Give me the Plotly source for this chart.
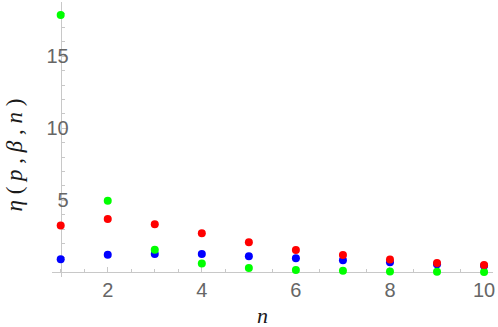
import plotly.graph_objects as go

n_values = [1, 2, 3, 4, 5, 6, 7, 8, 9, 10]
eta_blue = [0.90, 1.22, 1.27, 1.27, 1.11, 0.97, 0.83, 0.69, 0.56, 0.45]
eta_green = [17.87, 4.97, 1.57, 0.60, 0.30, 0.16, 0.10, 0.05, 0.03, 0.02]
eta_red = [3.24, 3.70, 3.33, 2.71, 2.08, 1.55, 1.20, 0.88, 0.65, 0.51]
x_tickvals = [2, 4, 6, 8, 10]
y_tickvals = [5, 10, 15]

XR = [0.815, 10.19]
YR = [-0.33, 18.77]

fig = go.Figure()
for ys, col in [(eta_blue, "#0000ff"), (eta_green, "#00ff00"), (eta_red, "#ff0000")]:
    fig.add_trace(go.Scatter(x=n_values, y=ys, mode="markers",
                             marker=dict(color=col, size=8, line=dict(width=0)),
                             showlegend=False))

axcol = "#c8c8c8"
fontc = "#666666"
fig.update_layout(
    width=498, height=327,
    margin=dict(l=52, r=5, t=2, b=50),
    plot_bgcolor="white", paper_bgcolor="white",
    xaxis=dict(range=XR, anchor="free", position=(0 - YR[0]) / (YR[1] - YR[0]),
               tickvals=x_tickvals, ticks="inside", ticklen=5, tickcolor=axcol,
               showline=True, linecolor=axcol, linewidth=1, layer="below traces",
               showgrid=False, zeroline=False,
               minor=dict(tickmode="linear", tick0=0, dtick=0.5, ticks="inside",
                          ticklen=3, tickcolor=axcol, showgrid=False),
               tickfont=dict(family="Liberation Sans, Arial", size=20, color=fontc)),
    yaxis=dict(range=YR, anchor="free", position=(1 - XR[0]) / (XR[1] - XR[0]),
               tickvals=y_tickvals, ticks="inside", ticklen=5, tickcolor=axcol,
               showline=True, linecolor=axcol, linewidth=1, layer="below traces",
               showgrid=False, zeroline=False, ticklabelstandoff=-12,
               minor=dict(tickmode="linear", tick0=0, dtick=1, ticks="inside",
                          ticklen=3, tickcolor=axcol, showgrid=False),
               tickfont=dict(family="Liberation Sans, Arial", size=20, color=fontc)),
    annotations=[
        dict(text="<i>η</i> ( <i>p</i> , <i>β</i> , <i>n</i> )", xref="paper", yref="paper",
             x=(13.5 - 52) / 441, y=(277 - 155) / 275, xanchor="center", yanchor="middle",
             textangle=-90, showarrow=False,
             font=dict(family="Liberation Serif, Times New Roman", size=23, color="#1a1a1a")),
        dict(text="<i>n</i>", xref="paper", yref="paper",
             x=(262 - 52) / 441, y=(277 - 315) / 275, xanchor="center", yanchor="middle",
             showarrow=False,
             font=dict(family="Liberation Serif, Times New Roman", size=22, color="#1a1a1a")),
    ],
)

fig.write_html("out.html", config={"displayModeBar": False},
               post_script="document.body.style.margin='0';document.body.style.padding='0';")
